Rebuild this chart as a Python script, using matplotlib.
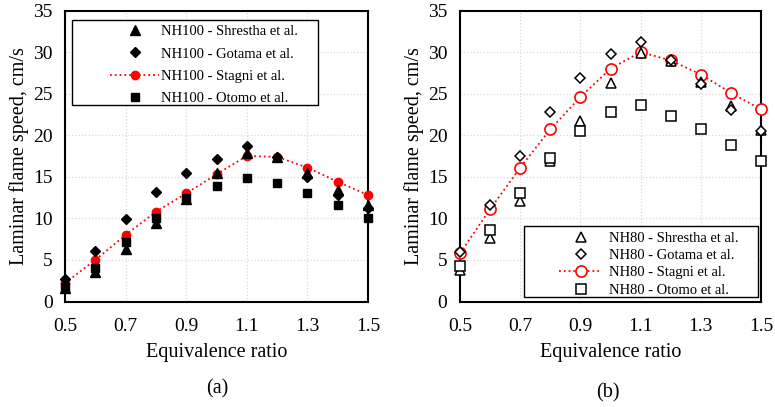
import matplotlib
matplotlib.use("Agg")
import matplotlib.pyplot as plt
from matplotlib.patches import Rectangle

plt.rcParams['font.family'] = ['Liberation Serif', 'DejaVu Serif']

phi = [0.5, 0.6, 0.7, 0.8, 0.9, 1.0, 1.1, 1.2, 1.3, 1.4, 1.5]

# Panel (a) NH100
a_shrestha = [1.6, 3.6, 6.3, 9.5, 12.3, 15.4, 17.9, 17.4, 15.5, 13.4, 11.6]
a_gotama = [2.7, 6.1, 9.9, 13.2, 15.4, 17.1, 18.7, 17.4, 15.0, 12.8, 11.2]
a_stagni = [2.2, 5.0, 8.0, 10.8, 13.0, 15.3, 17.5, 17.4, 16.1, 14.4, 12.8]
a_otomo = [1.7, 4.0, 7.1, 10.0, 12.4, 13.9, 14.8, 14.3, 13.0, 11.6, 10.1]

# Panel (b) NH80
b_shrestha = [3.8, 7.6, 12.1, 16.9, 21.7, 26.3, 29.9, 28.9, 26.4, 23.5, 20.6]
b_gotama = [6.0, 11.6, 17.5, 22.8, 26.9, 29.8, 31.2, 29.1, 26.1, 23.0, 20.5]
b_stagni = [5.8, 11.1, 16.1, 20.7, 24.6, 28.0, 30.0, 29.0, 27.3, 25.1, 23.1]
b_otomo = [4.3, 8.6, 13.1, 17.2, 20.5, 22.8, 23.6, 22.3, 20.8, 18.8, 16.9]

a_labels = ["NH100 - Shrestha et al.", "NH100 - Gotama et al.",
            "NH100 - Stagni et al.", "NH100 - Otomo et al."]
b_labels = ["NH80 - Shrestha et al.", "NH80 - Gotama et al.",
            "NH80 - Stagni et al.", "NH80 - Otomo et al."]

xticks = [0.5, 0.7, 0.9, 1.1, 1.3, 1.5]
yticks = [0, 5, 10, 15, 20, 25, 30, 35]

fig = plt.figure(figsize=(7.75, 4.07), dpi=100)
H = 407.0
W = 775.0
top_px, bot_px = 10.5, 301.5
axA = fig.add_axes([65 / W, 1 - bot_px / H, 303 / W, (bot_px - top_px) / H])
axB = fig.add_axes([460 / W, 1 - bot_px / H, 301 / W, (bot_px - top_px) / H])


def style(ax):
    ax.set_xlim(0.5, 1.5)
    ax.set_ylim(0, 35)
    ax.set_xticks(xticks)
    ax.set_xticklabels(["0.5", "0.7", "0.9", "1.1", "1.3", "1.5"])
    ax.set_yticks(yticks)
    ax.tick_params(length=0, labelsize=14, pad=9)
    ax.tick_params(axis='x', pad=12)
    ax.grid(True, color='#d9d9d9', linestyle=':', linewidth=0.9)
    ax.set_axisbelow(True)
    for s in ax.spines.values():
        s.set_linewidth(1.5)
        s.set_color('black')
    ax.set_xlabel("Equivalence ratio", fontsize=14.5, labelpad=6)
    ax.set_ylabel("Laminar flame speed, cm/s", fontsize=14.5, labelpad=3)


# Panel a (filled)
hA = []
hA.append(axA.plot(phi, a_shrestha, linestyle='none', marker='^', ms=6.5,
                   color='black', clip_on=False, zorder=4)[0])
hA.append(axA.plot(phi, a_gotama, linestyle='none', marker='D', ms=5,
                   color='black', clip_on=False, zorder=4)[0])
hA.append(axA.plot(phi, a_stagni, linestyle=':', linewidth=1.3, marker='o', ms=6,
                   color='red', clip_on=False, zorder=3)[0])
hA.append(axA.plot(phi, a_otomo, linestyle='none', marker='s', ms=5.5,
                   color='black', clip_on=False, zorder=4)[0])
style(axA)

# Panel b (open)
hB = []
hB.append(axB.plot(phi, b_shrestha, linestyle='none', marker='^', ms=7,
                   mfc='white', mec='black', mew=1.1, clip_on=False, zorder=4)[0])
hB.append(axB.plot(phi, b_gotama, linestyle='none', marker='D', ms=5.5,
                   mfc='white', mec='black', mew=1.1, clip_on=False, zorder=4)[0])
hB.append(axB.plot(phi, b_stagni, linestyle=':', linewidth=1.3, marker='o', ms=8,
                   color='red', mfc='white', mec='red', mew=1.2,
                   clip_on=False, zorder=3)[0])
hB.append(axB.plot(phi, b_otomo, linestyle='none', marker='s', ms=7,
                   mfc='white', mec='black', mew=1.1, clip_on=False, zorder=4)[0])
style(axB)

# Legends (frameless) with manual frames
axA.add_patch(Rectangle((0.023, 0.674), 0.812, 0.295, transform=axA.transAxes,
                        fill=True, facecolor='white', edgecolor='black',
                        linewidth=1.0, zorder=5))
legA = axA.legend(hA, a_labels, loc='upper left', bbox_to_anchor=(0.15, 0.95),
                  frameon=False, fontsize=10.5, handlelength=3.3,
                  handletextpad=0.2, labelspacing=0.62, borderpad=0,
                  borderaxespad=0)
legA.set_zorder(6)

axB.add_patch(Rectangle((0.213, 0.017), 0.777, 0.241, transform=axB.transAxes,
                        fill=True, facecolor='white', edgecolor='black',
                        linewidth=1.0, zorder=5))
legB = axB.legend(hB, b_labels, loc='upper left', bbox_to_anchor=(0.328, 0.24),
                  frameon=False, fontsize=10.5, handlelength=3.0,
                  handletextpad=0.45, labelspacing=0.28, borderpad=0,
                  borderaxespad=0)
legB.set_zorder(6)

fig.text(217 / W, 1 - 389 / H, "(a)", ha='center', va='center', fontsize=14.5)
fig.text(608 / W, 1 - 393 / H, "(b)", ha='center', va='center', fontsize=14.5)

fig.savefig("out.png", dpi=100)
